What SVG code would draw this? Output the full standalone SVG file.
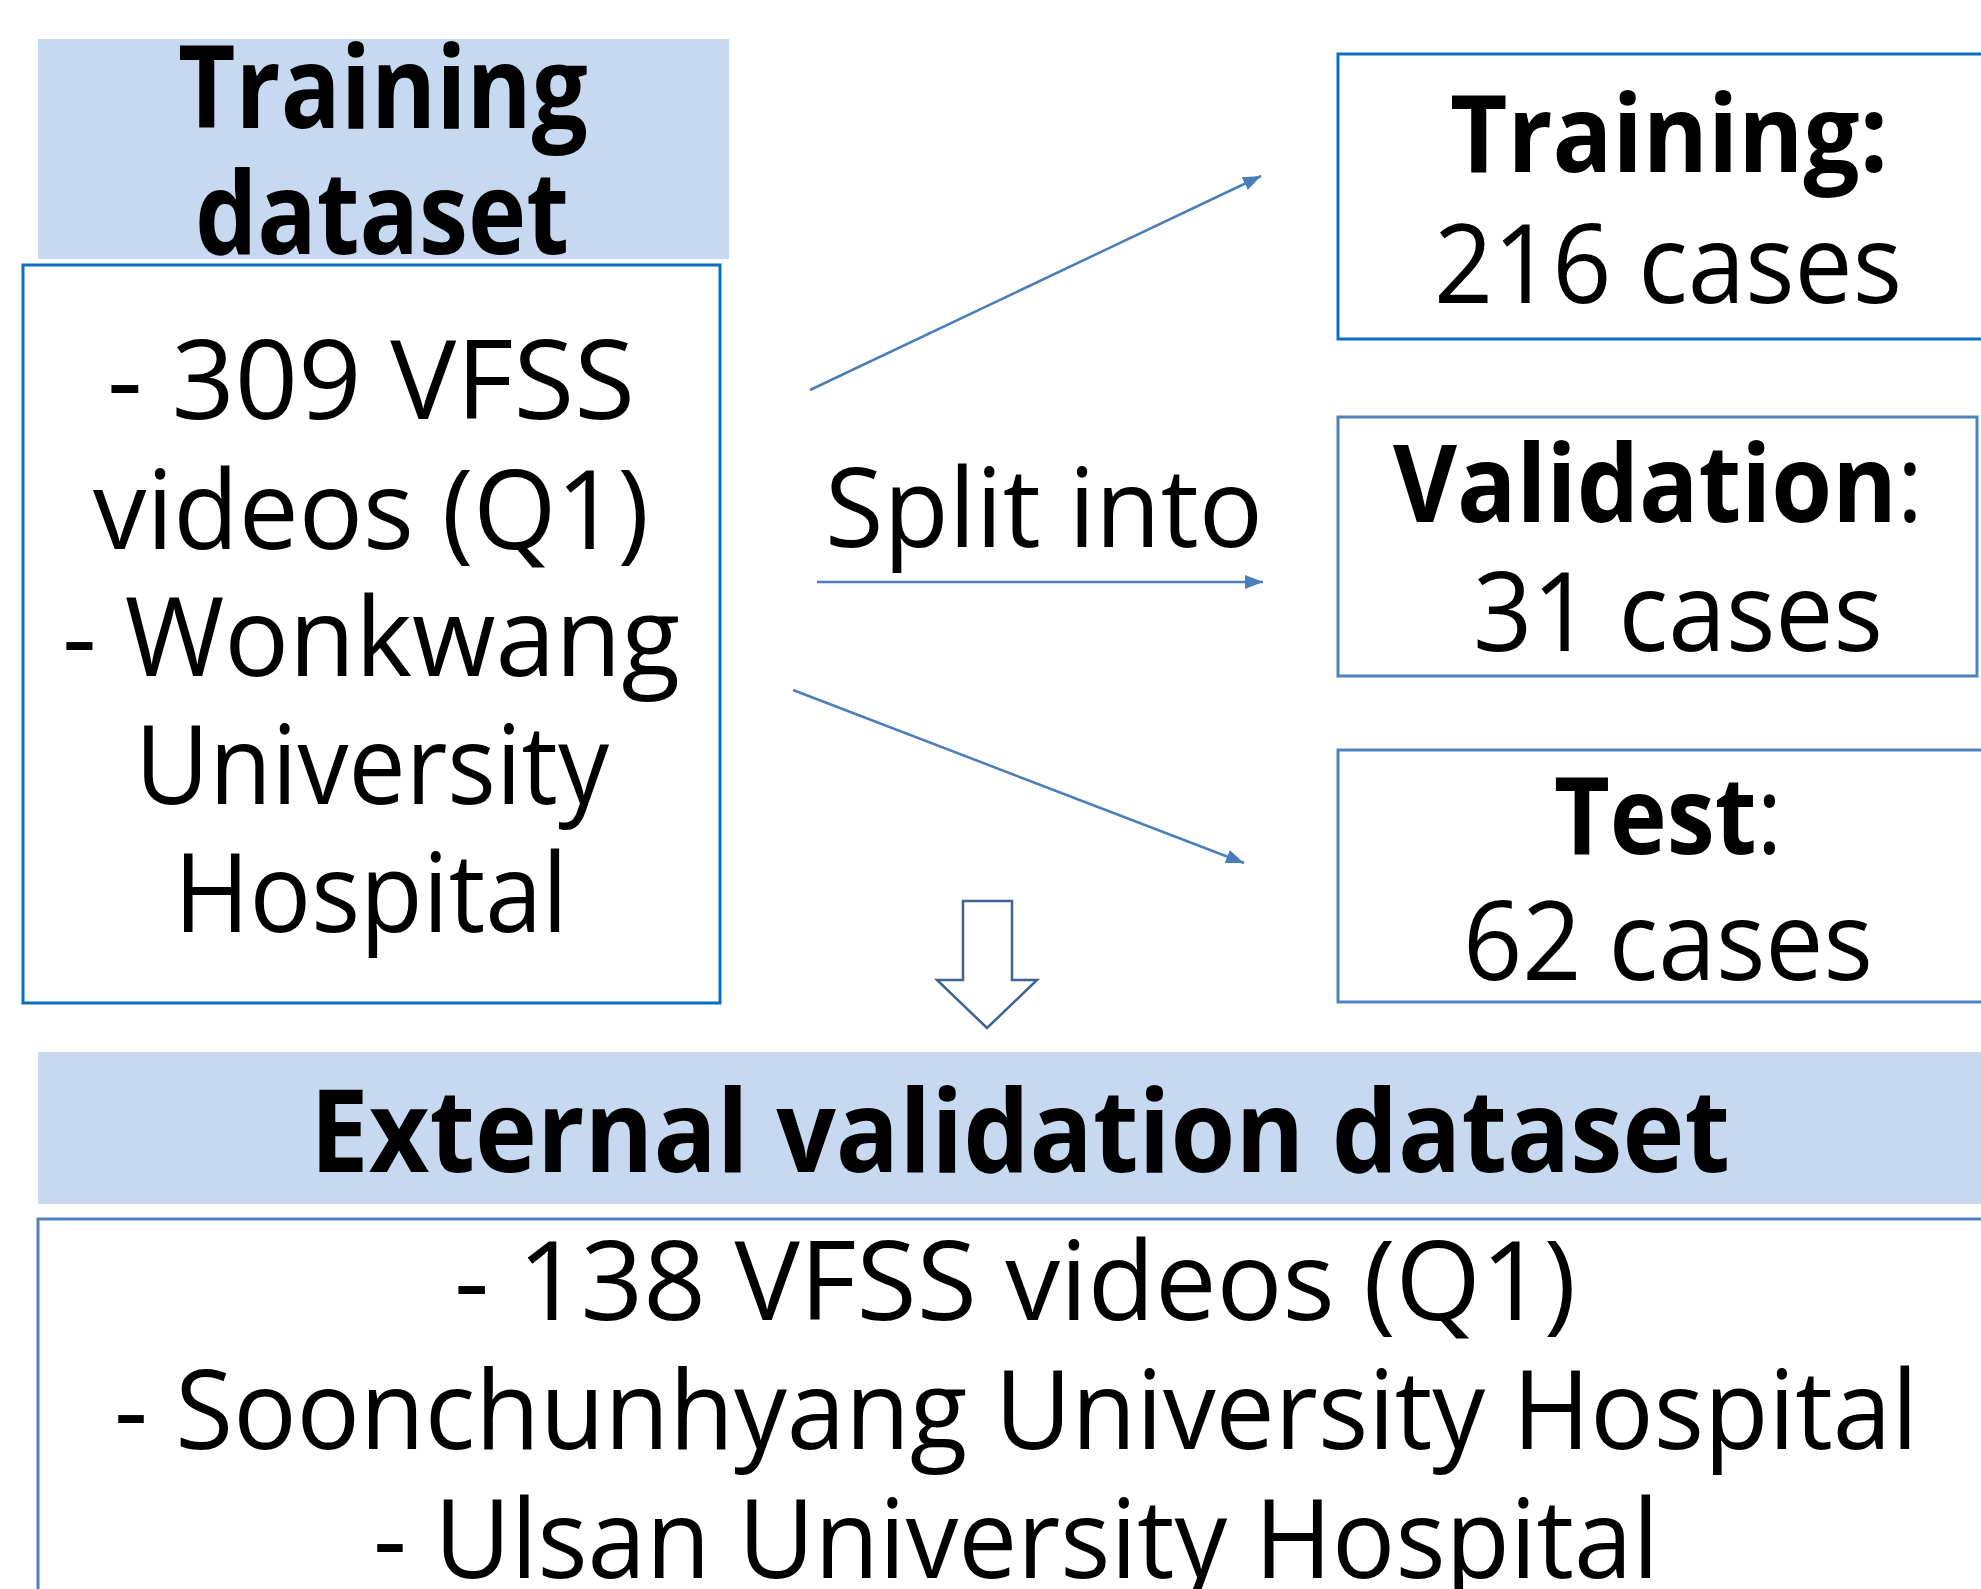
<svg xmlns="http://www.w3.org/2000/svg" width="1981" height="1589" viewBox="0 0 1981 1589">
<style>
  text { font-family: "Open Sans", "Noto Sans", "Liberation Sans", sans-serif; fill: #000; text-anchor: middle; }
  .reg { font-size: 110px; font-weight: 400; }
  .bold { font-size: 108px; font-weight: 700; }
  .head { font-size: 114px; font-weight: 700; }
  .hdr { fill: #C6D9F0; stroke: none; }
  .box1 { fill: #fff; stroke: #0A6EC0; stroke-width: 3; }
  .box2 { fill: #fff; stroke: #4F81BD; stroke-width: 3; }
  .conn { stroke: #4A7EBB; stroke-width: 2.5; fill: none; marker-end: url(#ah); }
  .block { fill: #fff; stroke: #3D6494; stroke-width: 2.5; stroke-linejoin: miter; }
</style>
<defs>
  <marker id="ah" markerUnits="userSpaceOnUse" markerWidth="20" markerHeight="16" refX="18" refY="7" orient="auto">
    <path d="M0,0 L18,7 L0,14 z" fill="#4A7EBB"/>
  </marker>
</defs>
<rect width="1981" height="1589" fill="#fff"/>

<g id="training-dataset">
  <rect class="hdr" x="38" y="39" width="691" height="220"/>
  <text class="head" x="383" y="128" textLength="410" lengthAdjust="spacingAndGlyphs">Training</text>
  <text class="head" x="382" y="254" textLength="374" lengthAdjust="spacingAndGlyphs">dataset</text>
  <rect class="box1" x="23" y="265" width="697" height="738"/>
  <text class="reg" x="371" y="419" textLength="528" lengthAdjust="spacingAndGlyphs">- 309 VFSS</text>
  <text class="reg" x="371" y="549" textLength="556" lengthAdjust="spacingAndGlyphs">videos (Q1)</text>
  <text class="reg" x="371" y="676" textLength="618" lengthAdjust="spacingAndGlyphs">- Wonkwang</text>
  <text class="reg" x="372" y="804" textLength="474" lengthAdjust="spacingAndGlyphs">University</text>
  <text class="reg" x="371" y="932" textLength="394" lengthAdjust="spacingAndGlyphs">Hospital</text>
</g>

<g id="training-split">
  <rect class="box1" x="1338" y="54" width="670" height="285"/>
  <text class="bold" x="1669" y="172" textLength="438" lengthAdjust="spacingAndGlyphs">Training:</text>
  <text class="reg" x="1668" y="303" textLength="468" lengthAdjust="spacingAndGlyphs">216 cases</text>
</g>

<g id="validation-split">
  <rect class="box2" x="1338" y="417" width="639" height="259"/>
  <text class="bold" x="1658" y="522" textLength="530" lengthAdjust="spacingAndGlyphs">Validation<tspan font-weight="400">:</tspan></text>
  <text class="reg" x="1678" y="651" textLength="410" lengthAdjust="spacingAndGlyphs">31 cases</text>
</g>

<g id="test-split">
  <rect class="box2" x="1338" y="750" width="670" height="252"/>
  <text class="bold" x="1668" y="854" textLength="228" lengthAdjust="spacingAndGlyphs">Test<tspan font-weight="400">:</tspan></text>
  <text class="reg" x="1668" y="980" textLength="410" lengthAdjust="spacingAndGlyphs">62 cases</text>
</g>

<g id="connectors">
  <line class="conn" x1="810" y1="390" x2="1261" y2="176"/>
  <line class="conn" x1="817" y1="582" x2="1263" y2="582"/>
  <line class="conn" x1="793" y1="690" x2="1244" y2="863"/>
  <text class="reg" x="1044" y="547" textLength="438" lengthAdjust="spacingAndGlyphs">Split into</text>
  <path class="block" d="M963,901 L1012,901 L1012,980 L1037,980 L987,1028 L937,980 L963,980 Z"/>
</g>

<g id="external-dataset">
  <rect class="hdr" x="38" y="1052" width="1960" height="152"/>
  <text class="head" x="1020" y="1172" textLength="1420" lengthAdjust="spacingAndGlyphs">External validation dataset</text>
  <rect class="box2" x="38" y="1219" width="1960" height="400"/>
  <text class="reg" x="1015" y="1320" textLength="1122" lengthAdjust="spacingAndGlyphs">- 138 VFSS videos (Q1)</text>
  <text class="reg" x="1016" y="1449" textLength="1804" lengthAdjust="spacingAndGlyphs">- Soonchunhyang University Hospital</text>
  <text class="reg" x="1016" y="1578" textLength="1286" lengthAdjust="spacingAndGlyphs">- Ulsan University Hospital</text>
</g>
</svg>
